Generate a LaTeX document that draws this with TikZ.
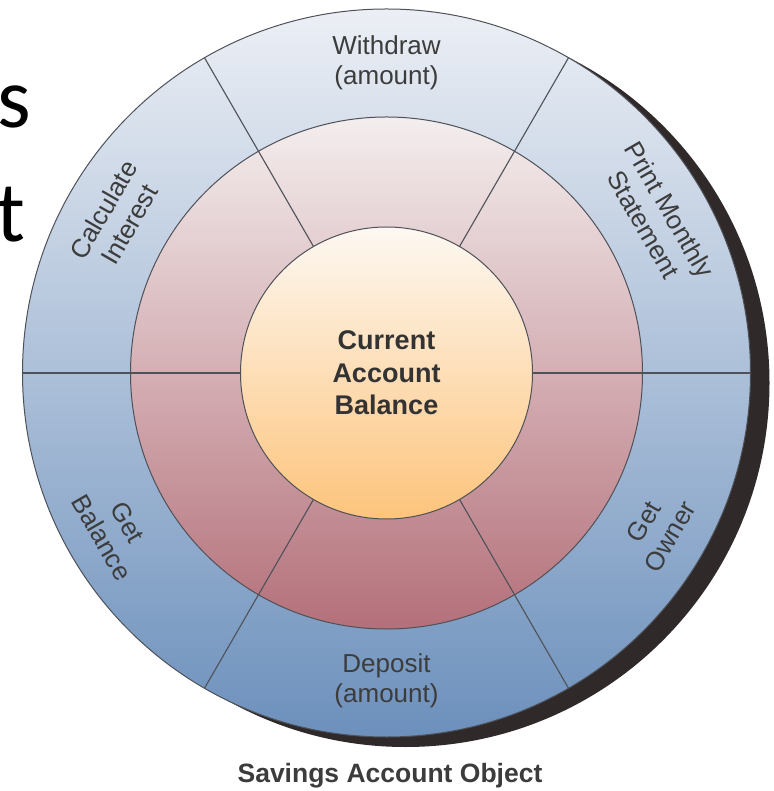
\documentclass[tikz,border=0pt]{standalone}
\usepackage{fontspec}
\setmainfont{Liberation Sans}
\newfontfamily\slidefont{Carlito}
\definecolor{shadowc}{HTML}{2F292A}
\definecolor{outertop}{HTML}{ECEFF5}
\definecolor{outermid}{HTML}{B6C6DA}
\definecolor{outerbot}{HTML}{6C90BC}
\definecolor{midtop}{HTML}{F4EEEE}
\definecolor{midmid}{HTML}{DDBCC0}
\definecolor{midbot}{HTML}{B4707A}
\definecolor{innertop}{HTML}{FDF8F2}
\definecolor{innermid}{HTML}{FDE2BE}
\definecolor{innerbot}{HTML}{FDC47C}
\definecolor{linec}{HTML}{4E5158}
\definecolor{labelc}{HTML}{3C3C3C}
\begin{document}
\begin{tikzpicture}[x=1pt,y=1pt,
  ring/.style={circle, inner sep=0pt, outer sep=0pt, draw=linec, line width=1pt},
  divline/.style={draw=linec, line width=1.1pt},
  lbl/.style={text=labelc, align=center, inner sep=0pt, font=\fontsize{26}{30}\selectfont},
  centerlbl/.style={text=labelc!85!black, align=center, inner sep=0pt, font=\bfseries\fontsize{27}{32.5}\selectfont},
  titlelbl/.style={text=labelc, inner sep=0pt, font=\bfseries\fontsize{26.5}{30}\selectfont},
  slidelbl/.style={text=black, inner sep=0pt, font=\slidefont\fontsize{86}{100}\selectfont}]
\useasboundingbox (-386.5,-418) rectangle (386.5,373);
\clip (-386.5,-418) rectangle (386.5,373);
% slide text fragments
\node[slidelbl, anchor=base east] (s) at (-355,245) {s};
\node[slidelbl, anchor=base east] (t) at (-361,131) {t};
% shadow
\node[circle, inner sep=0pt, outer sep=0pt, minimum size=728pt, fill=shadowc] (shadow) at (19,-10) {};
% rings
\node[ring, minimum size=728pt, top color=outertop, middle color=outermid, bottom color=outerbot] (outer) at (0,0) {};
\node[ring, minimum size=512pt, top color=midtop, middle color=midmid, bottom color=midbot] (middle) at (0,0) {};
\node[ring, minimum size=292pt, top color=innertop, middle color=innermid, bottom color=innerbot] (inner) at (0,0) {};
\foreach \a in {0,60,120,180,240,300}
  \draw[divline] (inner.\a) -- (outer.\a);
% labels
\node[centerlbl] (balance) at (0,0) {Current\\Account\\Balance};
\node[lbl] (withdraw) at (90:310) {Withdraw\\(amount)};
\node[lbl] (deposit) at (270:308) {Deposit\\(amount)};
\node[lbl, rotate=-60] (print) at (30:312) {Print Monthly\\Statement};
\node[lbl, rotate=60] (interest) at (150:312) {Calculate\\Interest};
\node[lbl, rotate=60] (owner) at (-30:312) {Get\\Owner};
\node[lbl, rotate=-60] (getbal) at (210:314) {Get\\Balance};
\node[titlelbl, anchor=base] (title) at (3.5,-409) {Savings Account Object};
\end{tikzpicture}
\end{document}
